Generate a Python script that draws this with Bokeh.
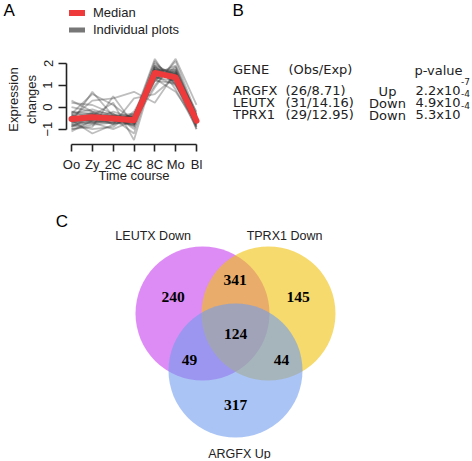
import math
from bokeh.plotting import figure
from bokeh.models import Range1d, Legend, LegendItem, FixedTicker
from bokeh.layouts import column, row
from bokeh.embed import file_html
from bokeh.resources import INLINE
from bokeh.core.properties import value

# ---------------- data ----------------
time_points = ["Oo", "Zy", "2C", "4C", "8C", "Mo", "Bl"]
median_expr = [-0.54, -0.46, -0.52, -0.60, 1.56, 1.36, -0.62]
individual_profiles = [
    [-0.55, -0.45, -0.55, -0.62, 1.60, 1.38, -0.62],
    [-0.60, -0.50, -0.50, -0.70, 1.70, 1.30, -0.55],
    [-0.45, -0.40, -0.60, -0.55, 1.50, 1.50, -0.70],
    [-0.70, -0.55, -0.45, -0.60, 1.45, 1.55, -0.65],
    [-0.50, -0.60, -0.65, -0.50, 1.75, 1.20, -0.50],
    [-0.65, -0.35, -0.50, -0.75, 1.55, 1.45, -0.60],
    [-0.40, -0.55, -0.70, -0.65, 1.65, 1.35, -0.75],
    [-0.75, -0.45, -0.40, -0.55, 1.40, 1.60, -0.55],
    [-0.58, -0.52, -0.48, -0.58, 1.62, 1.42, -0.58],
    [-0.48, -0.42, -0.58, -0.66, 1.52, 1.32, -0.68],
    [-0.62, -0.48, -0.54, -0.52, 1.68, 1.28, -0.52],
    [-0.35, -0.30, -0.40, -0.45, 1.80, 1.50, -0.40],
    [-0.80, -0.65, -0.70, -0.80, 1.35, 1.20, -0.85],
    [-0.20, -0.30, -0.60, -0.80, 1.90, 1.10, -0.60],
    [-0.90, -0.70, -0.50, -0.40, 1.20, 1.80, -0.45],
    [-0.30, -0.10, -0.40, -0.90, 1.80, 1.30, -0.80],
    [-1.00, -0.80, -0.70, -0.30, 1.30, 1.70, -0.35],
    [0.00, -0.20, -0.30, -1.00, 1.60, 1.20, -0.90],
    [-0.80, -1.00, -0.90, -0.20, 1.50, 1.90, -0.40],
    [0.20, 0.10, -0.30, -0.70, 1.40, 1.00, -0.80],
    [-1.10, -0.60, -0.20, -0.50, 2.10, 1.00, -0.50],
    [-0.30, 0.60, 0.10, -0.60, 1.20, 1.10, -1.00],
    [-0.60, -1.20, -0.80, -0.40, 1.00, 2.10, -0.30],
    [-0.50, 0.30, 0.40, 0.70, 0.20, 1.60, -0.70],
    [-0.90, -0.40, 0.20, -1.50, 1.70, 1.60, -0.40],
    [0.30, -0.20, -0.60, -0.40, 2.20, 0.80, -0.90],
    [-0.40, -0.70, -1.00, -0.60, 0.90, 2.20, 0.10],
    [-0.70, 0.70, -0.40, -0.30, 1.30, 0.70, -0.70],
    [-1.00, -0.90, 0.50, -0.80, 1.90, 1.50, -0.20],
    [-0.20, -0.50, -0.50, -1.20, 1.70, 1.70, -1.00],
    [-0.60, -0.30, -0.80, 0.40, 0.60, 1.40, -0.50],
    [-0.85, -0.55, -0.35, -0.45, 2.00, 1.30, -0.60],
    [-0.35, -0.65, -0.75, -0.70, 1.25, 1.85, -0.45],
    [-0.55, -0.25, -0.45, -0.85, 1.85, 1.05, -0.70],
    [-0.65, -0.75, -0.55, -0.35, 1.35, 1.65, -0.55],
]
y_ticks = [-1, 0, 1, 2]

header = ["GENE", "(Obs/Exp)", "p-value"]
genes = ["ARGFX", "LEUTX", "TPRX1"]
obs_exp = ["(26/8.71)", "(31/14.16)", "(29/12.95)"]
direction = ["Up", "Down", "Down"]
p_mantissa = ["2.2x10", "4.9x10", "5.3x10"]
p_exponent = ["-7", "-4", "-4"]

venn_sets = ["LEUTX Down", "TPRX1 Down", "ARGFX Up"]
venn_regions = ["L", "T", "A", "LT", "LA", "TA", "LTA"]
venn_counts = [240, 145, 317, 341, 49, 44, 124]

# ---------------- styling / layout constants ----------------
SANS = "Liberation Sans"
WIDE = "DejaVu Sans"
SERIF = "Liberation Serif"
DARK = "#222222"
TOP_H = 196
W_A = 220
HEAD_H = 54
NAN = float("nan")


def blank(width, height):
    p = figure(width=width, height=height, x_range=Range1d(0, width), y_range=Range1d(height, 0),
               output_backend="svg", toolbar_location=None, x_axis_type=None, y_axis_type=None,
               min_border=0, frame_align=False)
    p.outline_line_color = None
    p.grid.visible = False
    return p


def txt(p, x, y, t, size="13px", align="left", font=SANS, style="normal", color=DARK):
    p.text(x=x, y=y, text=t, text_align=align, text_baseline="middle",
           text_font=value(font), text_font_size=size, text_font_style=style, text_color=color)


# ---------------- panel A: header (label + legend) ----------------
ph = blank(W_A, HEAD_H)
txt(ph, [3], [9.5], ["A"], size="17px", color="black")
# legend keys only (no visible data: NaN points)
red_key = ph.line(x=[NAN, NAN], y=[NAN, NAN], line_color="#EE3A3A", line_width=6,
                  line_cap="round")
gray_key = ph.line(x=[NAN, NAN], y=[NAN, NAN], line_color="#777777", line_width=5,
                   line_cap="round")
leg = Legend(items=[LegendItem(label="Median", renderers=[red_key]),
                    LegendItem(label="Individual plots", renderers=[gray_key])],
             location=(69, HEAD_H - 38), orientation="vertical", glyph_width=16, glyph_height=17,
             label_height=17, spacing=0, padding=0, margin=0, label_standoff=8,
             label_text_font=SANS, label_text_font_size="13px", label_text_color=DARK,
             border_line_color=None, background_fill_alpha=0)
ph.add_layout(leg)

# ---------------- panel A: plot ----------------
FL, FW, FH = 66, 135, 90
H_A = TOP_H - HEAD_H
pa = figure(width=W_A, height=H_A, x_range=Range1d(-0.24, 6.24), y_range=Range1d(-1.70, 2.40),
            output_backend="svg", toolbar_location=None, frame_align=False,
            min_border_left=FL, min_border_top=0,
            min_border_right=W_A - FL - FW, min_border_bottom=H_A - FH)
pa.outline_line_color = None
pa.grid.visible = False

idx = list(range(len(time_points)))
pa.multi_line(xs=[idx] * len(individual_profiles), ys=individual_profiles,
              line_color="#3a3a3a", line_alpha=0.33, line_width=1.8)
pa.line(idx, median_expr, line_color="#EE3A3A", line_width=6,
        line_cap="round", line_join="round")

xa = pa.xaxis[0]
xa.ticker = FixedTicker(ticks=idx)
xa.major_label_overrides = {i: t for i, t in enumerate(time_points)}
xa.bounds = (0, len(time_points) - 1)
ya = pa.yaxis[0]
ya.ticker = FixedTicker(ticks=y_ticks)
ya.major_label_overrides = {t: (str(t).replace("-", "\u2212")) for t in y_ticks}
ya.bounds = (min(y_ticks), max(y_ticks))
ya.major_label_orientation = "parallel"
for a in (xa, ya):
    a.axis_line_width = 1.6
    a.axis_line_color = DARK
    a.major_tick_line_color = DARK
    a.major_tick_line_width = 1.6
    a.major_tick_in = 0
    a.minor_tick_line_color = None
    a.major_label_text_font = SANS
    a.major_label_text_font_size = "13px"
    a.major_label_text_color = DARK
    a.axis_label_text_font = SANS
    a.axis_label_text_font_size = "13px"
    a.axis_label_text_font_style = "normal"
    a.axis_label_text_color = DARK
xa.major_tick_out = 7
xa.major_label_standoff = 5
xa.axis_label = "Time course"
xa.axis_label_standoff = -7
ya.major_tick_out = 8
ya.major_label_standoff = 6
ya.axis_label = "Expression\nchanges"
ya.axis_label_standoff = 2

col_a = column(ph, pa)

# ---------------- panel B ----------------
W_B = 250
pb = blank(W_B, TOP_H)
BX = 220  # page x of panel B's left edge
txt(pb, [232 - BX], [9.5], ["B"], size="17px", color="black")
txt(pb, [x - BX for x in (232.5, 288, 414)], [69, 69, 70], header, font=WIDE)
row_y = [90, 102, 114.2]
txt(pb, [232.5 - BX] * 3, row_y, genes, font=WIDE)
txt(pb, [285 - BX] * 3, row_y, obs_exp, font=WIDE)
txt(pb, [387 - BX] * 3, [y + 1 for y in row_y], direction, align="center", font=WIDE)
txt(pb, [460 - BX] * 3, row_y, p_mantissa, align="right", font=WIDE)
txt(pb, [460.5 - BX] * 3, [y - 9 for y in row_y], p_exponent, size="9px", font=WIDE)

# ---------------- panel C ----------------
W_C, H_C = 470, 263
pc = blank(W_C, H_C)
CY = TOP_H  # page y of panel C's top edge
R = 67
centers = {"L": (202, 313), "T": (268, 313), "A": (235, 370)}
set_colors = {"L": "#C83FEE", "T": "#F0C10D", "A": "#719DEE"}
for k in ("L", "T", "A"):
    cx, cy = centers[k]
    pc.circle(x=[cx], y=[cy - CY], radius=R, fill_color=set_colors[k], fill_alpha=0.6,
              line_color=None)

region_pos = {"L": (172.7, 296.7), "T": (297.7, 296.7), "A": (235, 404.5),
              "LT": (234.5, 279.3), "LA": (189, 359.5), "TA": (281, 359.5), "LTA": (235, 333.5)}
txt(pc, [region_pos[r][0] for r in venn_regions], [region_pos[r][1] - CY for r in venn_regions],
    [str(c) for c in venn_counts], size="15.5px", align="center", font=SERIF, style="bold",
    color="black")
set_label_pos = [(152.7, 235), (284, 235), (239, 453)]
txt(pc, [p[0] for p in set_label_pos], [p[1] - CY for p in set_label_pos], venn_sets,
    size="12.5px", align="center")
txt(pc, [61.5], [220.5 - CY], ["C"], size="17px", align="center", color="black")

layout = column(row(col_a, pb), pc)
open("out.html", "w").write(file_html(layout, INLINE))
